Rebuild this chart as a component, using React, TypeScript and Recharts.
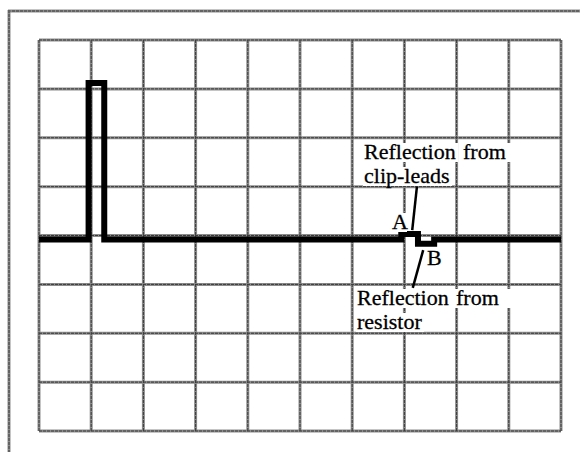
import { LineChart, Line, XAxis, YAxis, CartesianGrid, ReferenceLine } from "recharts";

// screen divisions: 10 across, 8 down (centre line = 0)
const xTicks = [0, 1, 2, 3, 4, 5, 6, 7, 8, 9, 10];
const yTicks = [-4, -3, -2, -1, 0, 1, 2, 3, 4];

// TDR trace (divisions)
const timeDiv = [0, 0.95, 0.95, 1.25, 1.25, 6.94, 6.94, 7.26, 7.26, 7.57, 7.57, 10];
const voltDiv = [-0.08, -0.08, 3.12, 3.12, -0.08, -0.08, 0.03, 0.03, -0.17, -0.17, -0.08, -0.08];

// leader lines from the labels to the two reflections
const leadA = [
  { x: 7.24, y: 1.0 },
  { x: 7.15, y: 0.11 },
];
const leadB = [
  { x: 7.36, y: -0.3 },
  { x: 7.16, y: -1.07 },
];

const trace = timeDiv.map((t, i) => ({ t, v: voltDiv[i] }));

const GRID = "#8c8c8c";
const GRID_DASH = "#3a3a3a";
const FONT = "'Liberation Serif', 'Times New Roman', serif";

function Word({ x, y, w, children }: { x: number; y: number; w: number; children: string }) {
  return (
    <g>
      <rect x={x - 1} y={y - 16} width={w} height={19} fill="#fff" />
      <text
        x={x}
        y={y}
        fontFamily={FONT}
        fontSize={22}
        fill="#000"
        stroke="#000"
        strokeWidth={0.3}
      >
        {children}
      </text>
    </g>
  );
}

export default function App() {
  return (
    <div style={{ position: "relative", width: 580, height: 452, background: "#fff" }}>
      <style>{"body{margin:0;overflow:hidden}"}</style>
      <LineChart
        width={580}
        height={452}
        data={trace}
        margin={{ top: 40, right: 19, bottom: 21, left: 39 }}
      >
        <XAxis dataKey="t" type="number" domain={[0, 10]} ticks={xTicks} hide />
        <YAxis type="number" domain={[-4, 4]} ticks={yTicks} hide />
        <CartesianGrid stroke={GRID} strokeWidth={3} />
        <CartesianGrid stroke={GRID_DASH} strokeWidth={1} strokeDasharray="3 1" />
        <Line
          dataKey="v"
          type="linear"
          stroke="#000"
          strokeWidth={6}
          strokeLinejoin="miter"
          dot={false}
          isAnimationActive={false}
        />
        <ReferenceLine segment={leadA} stroke="#000" strokeWidth={2.5} ifOverflow="visible" />
        <ReferenceLine segment={leadB} stroke="#000" strokeWidth={2.5} ifOverflow="visible" />
      </LineChart>
      <svg
        width={580}
        height={452}
        style={{ position: "absolute", left: 0, top: 0, pointerEvents: "none" }}
      >
        <line x1={8} y1={11} x2={580} y2={11} stroke={GRID} strokeWidth={3} />
        <line x1={8} y1={11} x2={580} y2={11} stroke={GRID_DASH} strokeWidth={1} strokeDasharray="3 1" />
        <line x1={9} y1={10} x2={9} y2={452} stroke={GRID} strokeWidth={3} />
        <line x1={9} y1={10} x2={9} y2={452} stroke={GRID_DASH} strokeWidth={1} strokeDasharray="3 1" />
        <Word x={364} y={159} w={95}>Reflection</Word>
        <Word x={463} y={159} w={56}>from</Word>
        <Word x={364} y={183} w={89}>clip-leads</Word>
        <Word x={392} y={229} w={16}>A</Word>
        <Word x={427} y={265} w={16}>B</Word>
        <Word x={357} y={305} w={95}>Reflection</Word>
        <Word x={456} y={305} w={56}>from</Word>
        <Word x={357} y={329} w={68}>resistor</Word>
      </svg>
    </div>
  );
}
